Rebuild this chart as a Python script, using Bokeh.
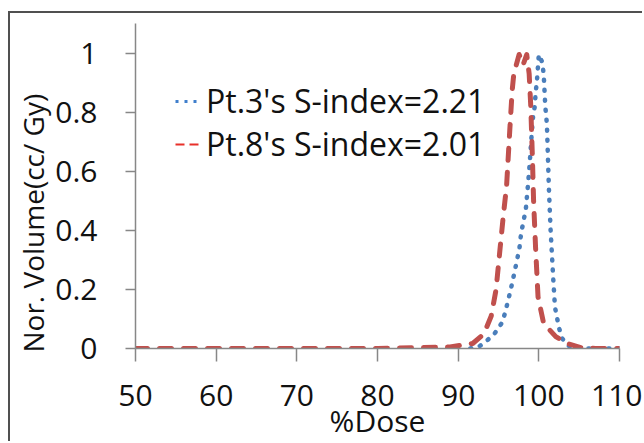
from bokeh.plotting import figure
from bokeh.models import Range1d, FixedTicker, Legend, LegendItem, Title, ColumnDataSource
from bokeh.embed import file_html
from bokeh.resources import INLINE

# ---- data ----
pt3_dose = [91.5, 92.5, 93.3, 94.5, 95.5, 95.9, 96.3, 96.6, 97.0, 97.3, 97.6, 97.8, 98.1, 98.4,
            98.8, 99.1, 99.3, 99.5, 99.6, 99.75, 100.0, 100.4, 100.6, 100.8, 101.0, 101.25,
            101.46, 101.8, 102.0, 102.5, 102.9, 103.6, 104.5, 106, 108, 110]
pt3_vol = [0, 0.005, 0.02, 0.05, 0.09, 0.13, 0.175, 0.21, 0.26, 0.30, 0.34, 0.39, 0.43, 0.475,
           0.6, 0.72, 0.79, 0.82, 0.865, 0.9, 0.995, 0.97, 0.93, 0.82, 0.76, 0.54,
           0.40, 0.23, 0.14, 0.07, 0.034, 0.01, 0, 0, 0, 0]

pt8_dose = [50, 60, 70, 80, 89, 91.8, 92.8, 93.5, 94.1, 94.7, 95.2, 95.6, 96.0, 96.4, 96.7,
            96.9, 97.56, 98.05, 98.5, 98.8, 99.0, 99.2, 99.35, 99.6, 99.9, 100.6, 102.1,
            103.5, 105.2, 107, 110]
pt8_vol = [0, 0, 0, 0, 0.005, 0.017, 0.04, 0.07, 0.11, 0.2, 0.34, 0.45, 0.55, 0.74, 0.875,
           0.93, 0.995, 0.96, 0.995, 0.93, 0.82, 0.65, 0.5, 0.34, 0.175, 0.085, 0.04,
           0.017, 0.003, 0, 0]

series_labels = ["Pt.3's S-index=2.21", "Pt.8's S-index=2.01"]
x_ticks = [50, 60, 70, 80, 90, 100, 110]
x_tick_labels = ["50", "60", "70", "80", "90", "100", "110"]
y_ticks = [0, 0.2, 0.4, 0.6, 0.8, 1]
y_tick_labels = ["0", "0.2", "0.4", "0.6", "0.8", "1"]
x_title = "%Dose"
y_title = "Nor. Volume(cc/ Gy)"

FONT = "Open Sans"
BLUE = "#4A7EBB"
RED = "#C0504D"
AXIS = "#878787"
TEXT = "#111111"

# canvas is offset by the chart-area border (8px margin + 2px border left, 11px + 2px top)
p = figure(width=634, height=430, output_backend="svg", toolbar_location=None,
           x_range=Range1d(50, 110), y_range=Range1d(0, 1.1),
           min_border_left=123, min_border_right=25, min_border_top=10, min_border_bottom=95)
p.styles = {"margin-left": "8px", "margin-top": "11px",
            "border-left": "2px solid #505050", "border-top": "2px solid #505050"}
p.outline_line_color = None
p.grid.visible = False
p.background_fill_color = "white"
p.border_fill_color = "white"

src3 = ColumnDataSource(dict(x=pt3_dose, y=pt3_vol))
src8 = ColumnDataSource(dict(x=pt8_dose, y=pt8_vol))
p.line("x", "y", source=src3, line_color=BLUE, line_width=4.5, line_dash="1 9",
       line_cap="round", line_join="round")
p.line("x", "y", source=src8, line_color=RED, line_width=5, line_dash="12 12",
       line_cap="round", line_join="round")

# legend sample renderers (thin, as in the reference legend); they hold no drawable data
nan = float("nan")
leg3 = p.line(x=[nan], y=[nan], line_color="#3F7FCC", line_width=3, line_dash="3 6")
leg8 = p.line(x=[nan], y=[nan], line_color="#E8302A", line_width=2, line_dash="9 5")
legend = Legend(items=[LegendItem(label=series_labels[0], renderers=[leg3]),
                       LegendItem(label=series_labels[1], renderers=[leg8])],
                location=(40, 183), padding=0, margin=0, spacing=-3,
                glyph_width=26, glyph_height=20, label_standoff=5,
                label_text_font=FONT, label_text_font_size="32px", label_text_color=TEXT,
                border_line_alpha=0, background_fill_alpha=0)
p.add_layout(legend)

for ax in (p.xaxis[0], p.yaxis[0]):
    ax.axis_line_color = AXIS
    ax.axis_line_width = 1.5
    ax.major_tick_line_color = AXIS
    ax.major_tick_line_width = 1.5
    ax.major_tick_in = 0
    ax.minor_tick_line_color = None
    ax.major_label_text_font = FONT
    ax.major_label_text_font_size = "30px"
    ax.major_label_text_color = TEXT
    ax.axis_label_text_font = FONT
    ax.axis_label_text_font_size = "30px"
    ax.axis_label_text_font_style = "normal"
    ax.axis_label_text_color = TEXT

p.xaxis.ticker = FixedTicker(ticks=x_ticks)
p.xaxis.major_label_overrides = dict(zip(x_ticks, x_tick_labels))
p.xaxis.major_tick_out = 13
p.xaxis.major_label_standoff = 23
p.xaxis.axis_label = x_title
p.xaxis.axis_label_standoff = -9

p.yaxis.ticker = FixedTicker(ticks=y_ticks)
p.yaxis.major_label_overrides = dict(zip(y_ticks, y_tick_labels))
p.yaxis.major_tick_out = 10
p.yaxis.major_label_standoff = 28

# y title as a side title so it can be shifted along the axis like the reference
p.add_layout(Title(text=y_title, align="left", offset=-4, standoff=2,
                   text_font=FONT, text_font_size="28px", text_font_style="normal",
                   text_color=TEXT), "left")

open("out.html", "w").write(file_html(p, INLINE))
